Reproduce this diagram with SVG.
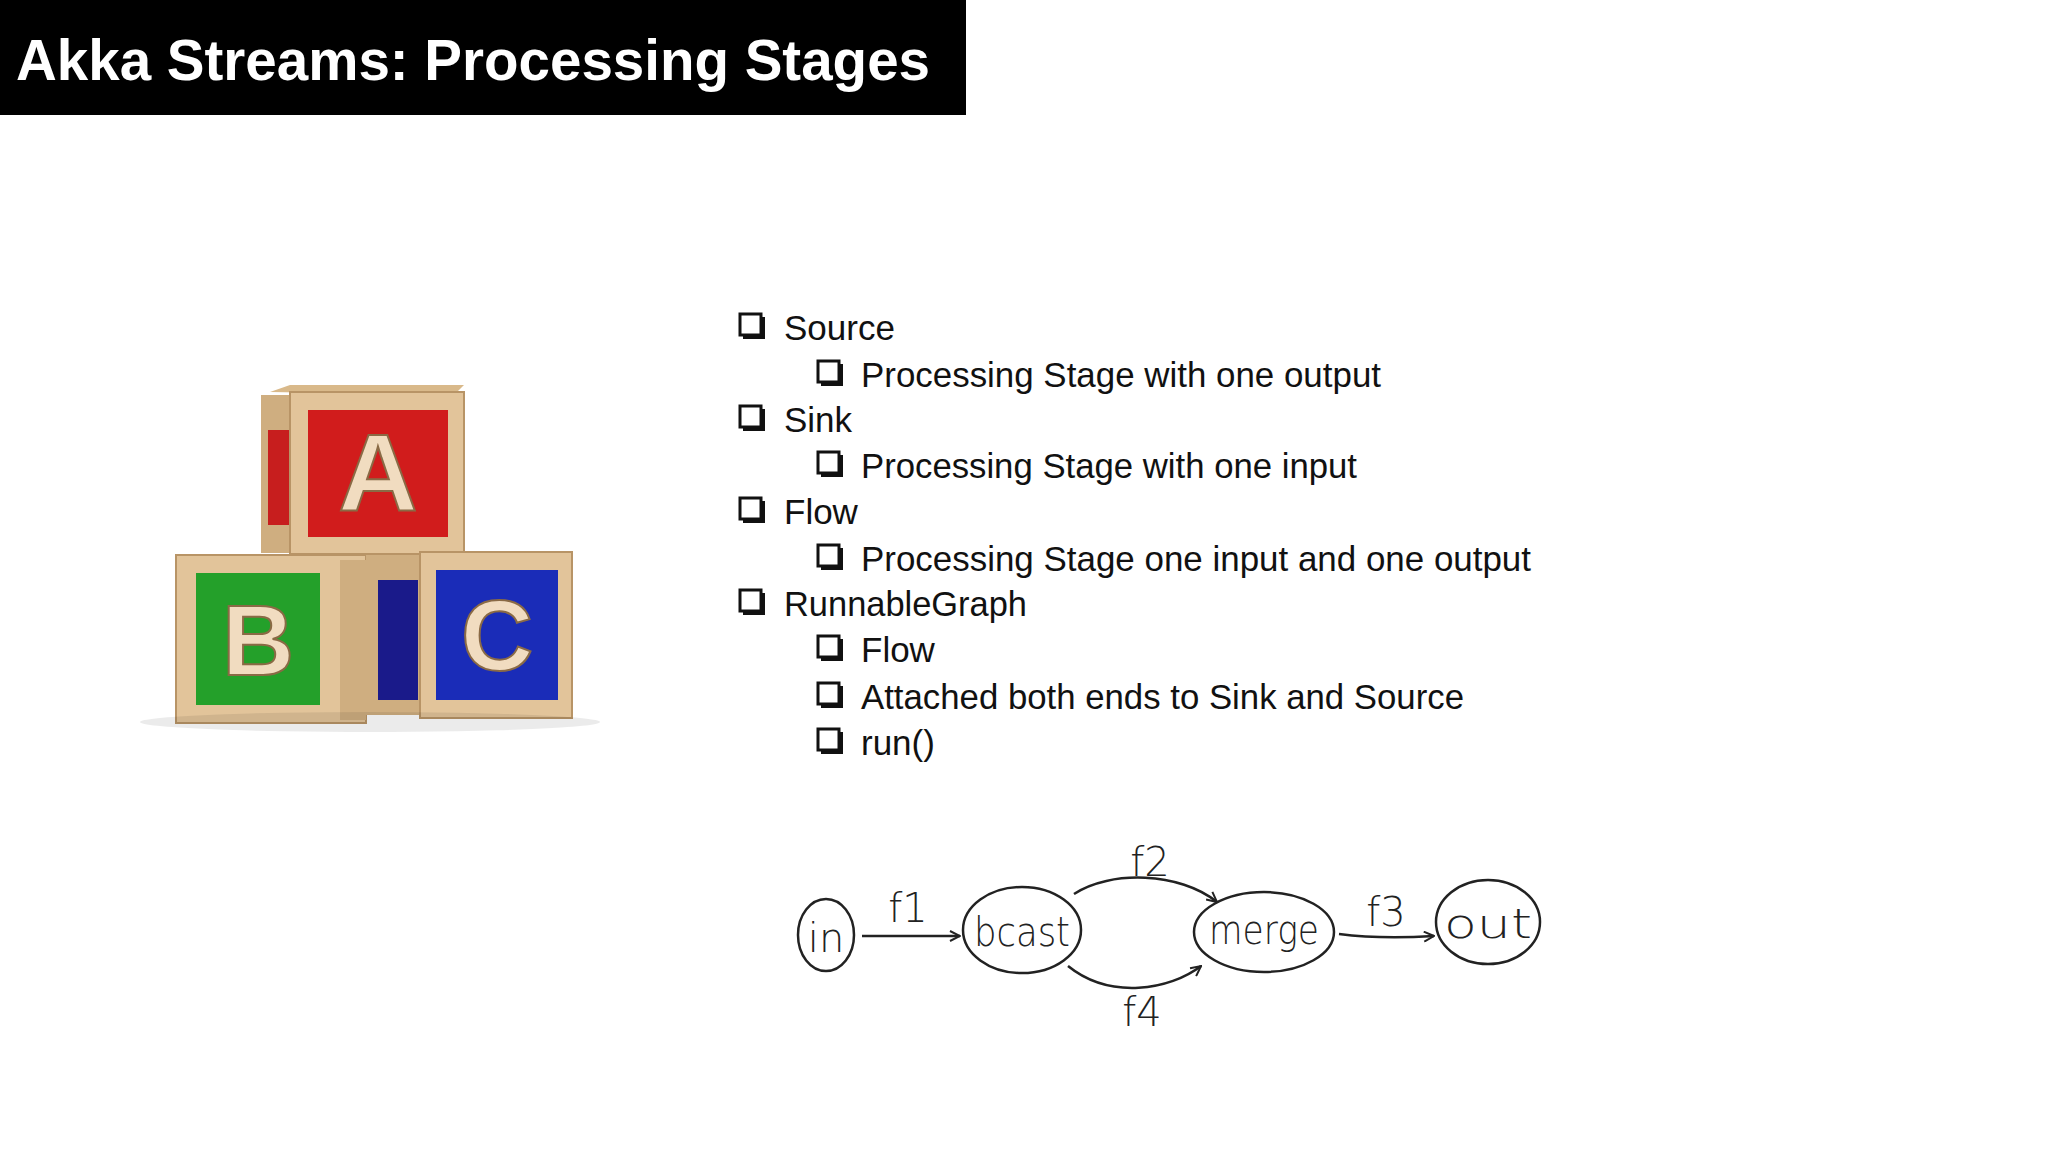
<svg xmlns="http://www.w3.org/2000/svg" width="2048" height="1152" viewBox="0 0 2048 1152">
<style>
.t1{font-family:"Liberation Sans","Open Sans",sans-serif;font-size:35px;fill:#111}
.bx{fill:#fff;stroke:#111;stroke-width:3}
.sh{fill:#111}
.node{fill:none;stroke:#222;stroke-width:2.5}
.lab{font-family:"DejaVu Sans",sans-serif;font-size:40px;fill:#222;font-weight:300}
.edge{fill:none;stroke:#222;stroke-width:2.5}
.face{fill:#e2c49a;stroke:#b89466;stroke-width:2}
.letter{font-family:"Liberation Sans",sans-serif;font-weight:bold;fill:#f1dcc0;stroke:#8a6a45;stroke-width:2}
</style>
<defs>
<marker id="ah" viewBox="0 0 12 12" refX="11" refY="6" markerWidth="12" markerHeight="12" markerUnits="userSpaceOnUse" orient="auto"><path d="M1,1 L11,6 L1,11" fill="none" stroke="#222" stroke-width="2"/></marker>
<g id="cb"><rect x="3" y="3" width="22" height="22" class="sh"/><rect x="0" y="0" width="21" height="21" class="bx"/></g>
</defs>
<rect width="2048" height="1152" fill="#fff"/>
<rect x="0" y="0" width="966" height="115" fill="#000"/>
<text x="16" y="80" font-family="Liberation Sans,sans-serif" font-weight="bold" font-size="58" fill="#fff" textLength="914" lengthAdjust="spacingAndGlyphs">Akka Streams: Processing Stages</text>

<!-- blocks -->
<g id="blockA">
<polygon points="270,392 290,385 464,385 454,395" fill="#d9b98a"/>
<rect x="261" y="395" width="40" height="158" fill="#cfae80"/>
<rect x="268" y="430" width="28" height="95" fill="#c71e1e"/>
<rect x="290" y="392" width="174" height="162" class="face"/>
<rect x="308" y="410" width="140" height="127" fill="#d11c1c"/>
<text x="378" y="510" text-anchor="middle" font-size="110" class="letter">A</text>
</g>
<g id="blockB">
<rect x="176" y="555" width="190" height="168" class="face"/>
<rect x="196" y="573" width="124" height="132" fill="#24a02a"/>
<text x="258" y="675" text-anchor="middle" font-size="100" class="letter">B</text>
<rect x="340" y="560" width="26" height="160" fill="#cfae80"/>
</g>
<g id="blockC">
<rect x="366" y="555" width="60" height="160" fill="#cfae80"/>
<rect x="378" y="580" width="40" height="120" fill="#1a1a8a"/>
<rect x="420" y="552" width="152" height="166" class="face"/>
<rect x="436" y="570" width="122" height="130" fill="#1a2cb8"/>
<text x="497" y="670" text-anchor="middle" font-size="100" class="letter">C</text>
</g>
<ellipse cx="370" cy="722" rx="230" ry="10" fill="#000" opacity="0.08"/>

<!-- bullets -->
<g id="list">
<use href="#cb" x="740" y="314"/><text class="t1" x="784" y="340">Source</text>
<use href="#cb" x="818" y="361"/><text class="t1" x="861" y="387" textLength="520" lengthAdjust="spacingAndGlyphs">Processing Stage with one output</text>
<use href="#cb" x="740" y="406"/><text class="t1" x="784" y="432">Sink</text>
<use href="#cb" x="818" y="452"/><text class="t1" x="861" y="478" textLength="496" lengthAdjust="spacingAndGlyphs">Processing Stage with one input</text>
<use href="#cb" x="740" y="498"/><text class="t1" x="784" y="524">Flow</text>
<use href="#cb" x="818" y="545"/><text class="t1" x="861" y="571" textLength="670" lengthAdjust="spacingAndGlyphs">Processing Stage one input and one output</text>
<use href="#cb" x="740" y="590"/><text class="t1" x="784" y="616" textLength="243" lengthAdjust="spacingAndGlyphs">RunnableGraph</text>
<use href="#cb" x="818" y="636"/><text class="t1" x="861" y="662">Flow</text>
<use href="#cb" x="818" y="683"/><text class="t1" x="861" y="709" textLength="603" lengthAdjust="spacingAndGlyphs">Attached both ends to Sink and Source</text>
<use href="#cb" x="818" y="729"/><text class="t1" x="861" y="755">run()</text>
</g>

<!-- diagram -->
<g id="in"><ellipse cx="826" cy="935" rx="28" ry="36" class="node"/><text class="lab" x="826" y="952" text-anchor="middle">in</text></g>
<g id="bcast"><ellipse cx="1022" cy="930" rx="59" ry="43" class="node"/><text class="lab" x="1022" y="946" text-anchor="middle" textLength="96" lengthAdjust="spacingAndGlyphs">bcast</text></g>
<g id="merge"><ellipse cx="1264" cy="932" rx="70" ry="40" class="node"/><text class="lab" x="1264" y="944" text-anchor="middle" textLength="110" lengthAdjust="spacingAndGlyphs">merge</text></g>
<g id="out"><ellipse cx="1488" cy="922" rx="52" ry="42" class="node"/><text class="lab" x="1488" y="938" text-anchor="middle" textLength="88" lengthAdjust="spacingAndGlyphs">out</text></g>
<g id="connectors">
<path d="M862,936 L960,936" class="edge" marker-end="url(#ah)"/>
<path d="M1074,894 C1110,870 1180,872 1217,902" class="edge" marker-end="url(#ah)"/>
<path d="M1068,966 C1110,1000 1170,990 1201,966" class="edge" marker-end="url(#ah)"/>
<path d="M1339,934 C1370,938 1400,938 1434,936" class="edge" marker-end="url(#ah)"/>
<text class="lab" x="908" y="922" text-anchor="middle">f1</text>
<text class="lab" x="1150" y="876" text-anchor="middle">f2</text>
<text class="lab" x="1142" y="1026" text-anchor="middle">f4</text>
<text class="lab" x="1386" y="926" text-anchor="middle">f3</text>
</g>
</svg>
